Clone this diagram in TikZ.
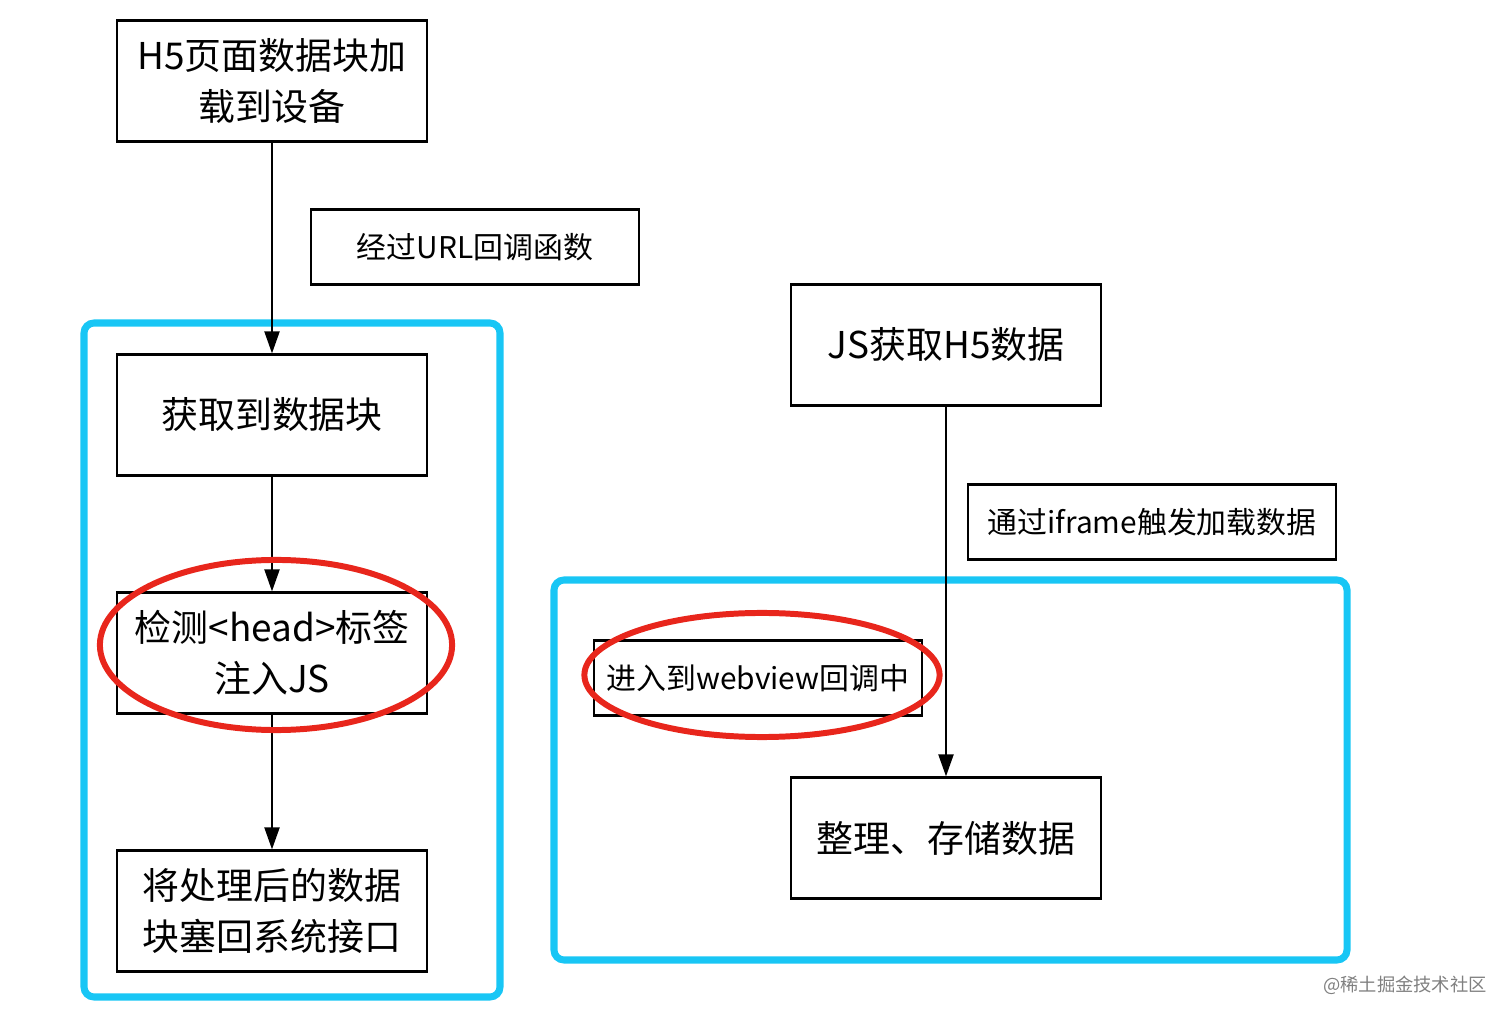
\documentclass[tikz,border=0pt]{standalone}
\usepackage{fontspec}
\setmainfont{Noto Sans CJK SC}
\usetikzlibrary{arrows.meta,shapes.geometric}
\definecolor{cyanframe}{RGB}{24,198,245}
\definecolor{redring}{RGB}{232,38,28}

\begin{document}
\begin{tikzpicture}[x=0.01cm,y=-0.01cm,
    box/.style={draw,line width=0.6pt,fill=white,minimum width=3.09cm,minimum height=1.21cm,align=center,inner sep=0pt,font=\fontsize{10.5}{14.5}\selectfont},
    tag/.style={draw,line width=0.6pt,fill=white,minimum height=0.75cm,inner sep=0pt,font=\fontsize{8.5}{11}\selectfont},
    frame/.style={draw=cyanframe,line width=2pt,rounded corners=0.1cm},
    ring/.style={draw=redring,line width=1.7pt,ellipse,inner sep=0pt},
    flow/.style={line width=0.6pt,-{Triangle[length=0.22cm,width=0.15cm]}}]
      \useasboundingbox (0,0) rectangle (1512,1022);
      % blue groups
      \draw [frame] (84,323) rectangle (500,997);
      \draw [frame] (554,580) rectangle (1347,960);
      % left column
      \node [box] (load) at (272,81) {H5页面数据块加\\载到设备};
      \node [box] (fetch) at (272,415) {获取到数据块};
      \node [box] (inject) at (272,653) {检测<head>标签\\注入JS};
      \node [box] (putback) at (272,911) {将处理后的数据\\块塞回系统接口};
      \node [tag,minimum width=3.28cm] (urlcb) at (475,247) {经过URL回调函数};
      % right column
      \node [box] (jsget) at (946,345) {JS获取H5数据};
      \node [box] (store) at (946,838) {整理、存储数据};
      \node [tag,minimum width=3.67cm] (iframe) at (1152,522) {通过iframe触发加载数据};
      \node [tag,minimum width=3.28cm] (webview) at (758,678) {进入到webview回调中};
      \draw [flow] (load) -- (fetch);
      \draw [flow] (fetch) -- (inject);
      \draw [flow] (inject) -- (putback);
      \draw [flow] (jsget) -- (store);
      % red marks
      \node [ring,minimum width=3.52cm,minimum height=1.70cm] (ringinject) at (276,645) {};
      \node [ring,minimum width=3.55cm,minimum height=1.24cm] (ringwebview) at (762,675) {};
      \node [text=gray,font=\fontsize{5.2}{6}\selectfont] (mark) at (1405,985) {@稀土掘金技术社区};
\end{tikzpicture}
\end{document}
